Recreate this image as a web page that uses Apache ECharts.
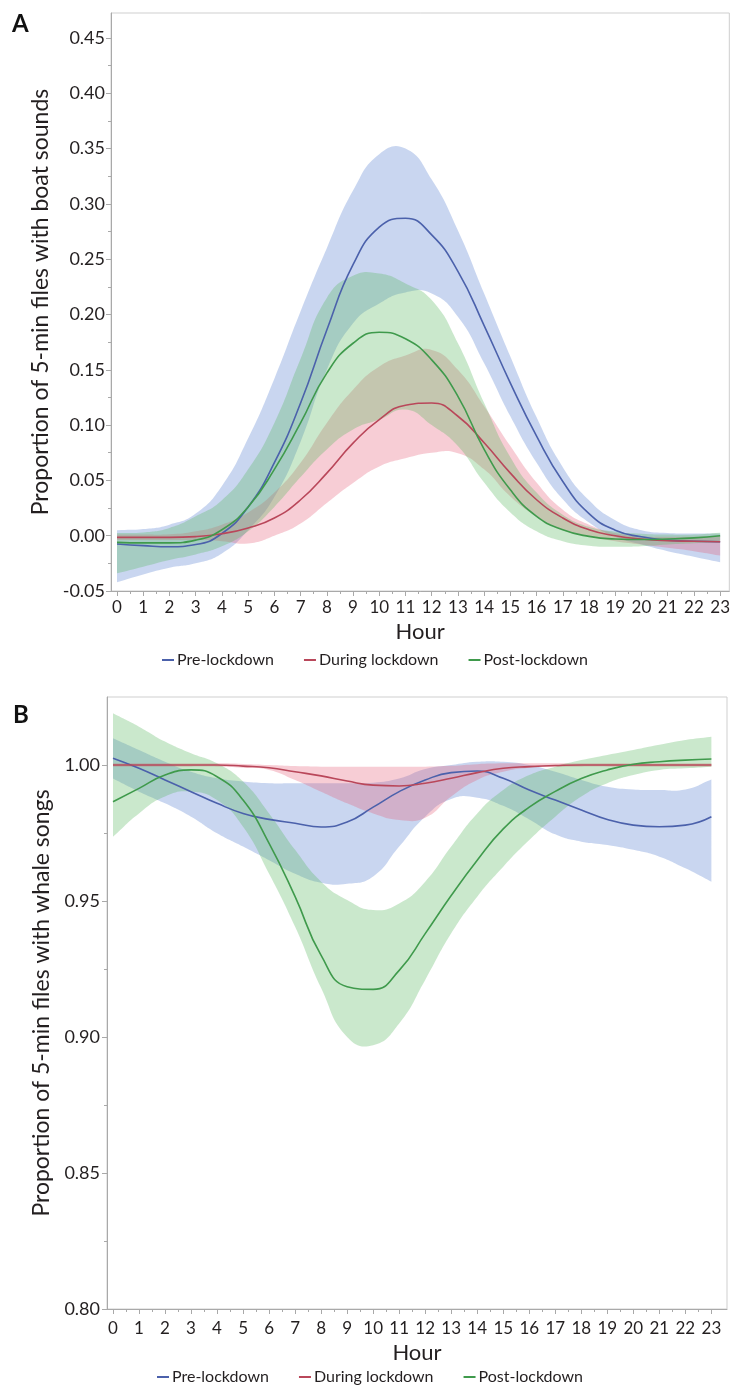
<!DOCTYPE html>
<html>
<head>
<meta charset="utf-8">
<script src="https://cdn.jsdelivr.net/npm/echarts@6/dist/echarts.min.js"></script>
<style>
html,body{margin:0;padding:0;background:#fff;}
#c{width:733px;height:1389px;}
</style>
</head>
<body>
<div id="c"></div>
<script>
// ---------- DATA ----------
const hours = [0,1,2,3,4,5,6,7,8,9,10,11,12,13,14,15,16,17,18,19,20,21,22,23];
const seriesNames = ['Pre-lockdown','During lockdown','Post-lockdown'];

// Panel A: boat sounds
const boatYTicks = [-0.05,0,0.05,0.10,0.15,0.20,0.25,0.30,0.35,0.40,0.45];
const boatPre   = [-0.0075,-0.009,-0.010,-0.008,0.002,0.026,0.066,0.120,0.186,0.245,0.279,0.287,0.272,0.239,0.190,0.138,0.090,0.049,0.020,0.005,-0.001,-0.004,-0.005,-0.0055];
const boatPreHi = [0.005,0.006,0.010,0.020,0.045,0.088,0.142,0.203,0.260,0.312,0.345,0.350,0.322,0.276,0.219,0.162,0.107,0.062,0.032,0.014,0.005,0.0025,0.002,0.002];
const boatPreLo = [-0.042,-0.035,-0.029,-0.025,-0.016,0.005,0.035,0.085,0.150,0.192,0.210,0.220,0.219,0.198,0.156,0.108,0.066,0.033,0.012,-0.001,-0.008,-0.014,-0.019,-0.024];
const boatDur   = [-0.0015,-0.0015,-0.0015,-0.0008,0.0018,0.007,0.016,0.0325,0.0566,0.0837,0.105,0.118,0.120,0.108,0.084,0.0566,0.0325,0.016,0.0054,0.0,-0.003,-0.0045,-0.005,-0.0055];
const boatDurHi = [0.001,0.001,0.0012,0.004,0.010,0.021,0.039,0.066,0.102,0.132,0.153,0.163,0.168,0.150,0.117,0.081,0.048,0.0235,0.010,0.0024,-0.0006,-0.001,-0.001,-0.0006];
const boatDurLo = [-0.004,-0.004,-0.004,-0.004,-0.005,-0.007,0.000,0.011,0.0295,0.0476,0.0626,0.070,0.075,0.0746,0.060,0.0355,0.0175,0.0054,-0.0006,-0.005,-0.008,-0.011,-0.014,-0.018];
const boatPost   = [-0.006,-0.0065,-0.0065,-0.004,0.0054,0.026,0.060,0.102,0.147,0.174,0.184,0.178,0.159,0.126,0.078,0.0415,0.0175,0.0054,-0.0006,-0.003,-0.0035,-0.003,-0.002,0.0];
const boatPostHi = [0.0025,0.003,0.007,0.0175,0.032,0.060,0.102,0.160,0.215,0.235,0.237,0.228,0.213,0.174,0.120,0.071,0.039,0.019,0.008,0.0036,0.0018,0.001,0.001,0.0027];
const boatPostLo = [-0.034,-0.028,-0.022,-0.017,-0.0096,0.004,0.026,0.053,0.078,0.096,0.105,0.114,0.100,0.081,0.048,0.021,0.004,-0.005,-0.009,-0.010,-0.0096,-0.008,-0.0068,-0.006];

// Panel B: whale songs
const whaleYTicks = [0.80,0.85,0.90,0.95,1.00];
const whalePre   = [1.0025,0.9988,0.9945,0.9902,0.9859,0.9822,0.980,0.9786,0.9772,0.9790,0.9845,0.9902,0.9945,0.9972,0.9978,0.9951,0.9908,0.9871,0.9835,0.980,0.9779,0.9773,0.9779,0.981];
const whalePreHi = [1.0098,1.0055,1.0012,0.9975,0.9951,0.9939,0.9933,0.9933,0.9933,0.9933,0.9935,0.995,0.9985,1.0,1.0012,1.0012,1.0,0.9975,0.9945,0.992,0.991,0.9908,0.991,0.9947];
const whalePreLo = [0.995,0.9902,0.9859,0.981,0.9749,0.970,0.965,0.960,0.9567,0.9563,0.959,0.970,0.981,0.9875,0.988,0.985,0.980,0.9745,0.9718,0.9706,0.9688,0.9663,0.962,0.9571];
const whaleDur   = [1.0,1.0,1.0,1.0,1.0,0.9996,0.999,0.9975,0.996,0.9941,0.9926,0.9923,0.9933,0.9951,0.9972,0.9988,0.9994,0.9998,1.0,1.0,1.0,1.0,1.0,1.0];
const whaleDurHi = [1.0006,1.0006,1.0006,1.0006,1.0006,1.0004,1.0,0.9996,0.9994,0.9994,0.9994,0.9994,0.9994,0.9997,1.0003,1.0006,1.0006,1.0006,1.0006,1.0006,1.0006,1.0006,1.0006,1.0006];
const whaleDurLo = [0.9994,0.9994,0.9994,0.9994,0.9994,0.999,0.9982,0.9945,0.9902,0.9859,0.9822,0.9798,0.9806,0.9884,0.9945,0.9975,0.999,0.9993,0.9994,0.9994,0.9994,0.9994,0.9994,0.9994];
const whalePost   = [0.9865,0.9914,0.9963,0.9982,0.9957,0.9871,0.9712,0.9516,0.930,0.9185,0.9175,0.9245,0.938,0.952,0.965,0.9765,0.9845,0.9903,0.995,0.9982,1.0003,1.0012,1.0018,1.0022];
const whalePostHi = [1.019,1.0141,1.0086,1.0043,1.0006,0.9939,0.9822,0.9688,0.9571,0.9504,0.9467,0.9491,0.9571,0.970,0.9822,0.9908,0.9963,0.9994,1.0018,1.0037,1.0055,1.0074,1.0092,1.0104];
const whalePostLo = [0.9736,0.9822,0.9884,0.9902,0.9871,0.9773,0.960,0.9405,0.918,0.900,0.897,0.905,0.921,0.9381,0.9516,0.9626,0.9724,0.981,0.9884,0.9933,0.9963,0.9982,0.9988,0.9994];

// ---------- STYLE ----------
const FONT = 'Lato, "Open Sans", sans-serif';
const TXT = '#231f20';
const AXC = '#a9a9a9';
const lineColors = ['#4b61ab', '#b9475a', '#3f9a4c'];
const bandColors = ['rgba(90,130,210,0.33)', 'rgba(230,90,115,0.30)', 'rgba(90,185,95,0.32)'];
const SMOOTH = 0.5;

const halfHours = hours.slice(0, -1).map(h => h + 0.5);
const minorOf = ticks => ticks.slice(0, -1).map(v => +(v + (ticks[1] - ticks[0]) / 2).toFixed(4));

function bandSeries(panel, k, lo, hi) {
  const ax = panel * 2;
  return {
    type: 'custom', name: seriesNames[k] + ' band', coordinateSystem: 'cartesian2d',
    xAxisIndex: ax, yAxisIndex: ax, silent: true, z: 1,
    data: hours.map((h, i) => [h, lo[i], hi[i]]),
    encode: { x: 0, y: [1, 2] },
    renderItem: function (params, api) {
      if (params.dataIndex !== 0) return null;
      const n = hours.length;
      const up = hours.map((h, i) => api.coord([h, hi[i]]));
      const dn = hours.map((h, i) => api.coord([h, lo[i]])).reverse();
      const pts = [up[0]].concat(up, [up[n - 1]], [dn[0]], dn, [dn[n - 1]]);
      return { type: 'polygon', shape: { points: pts, smooth: SMOOTH },
        style: { fill: bandColors[k] }, silent: true };
    }
  };
}
function lineSeries(panel, k, vals) {
  const ax = panel * 2;
  return { type: 'line', name: seriesNames[k], xAxisIndex: ax, yAxisIndex: ax,
    data: hours.map((h, i) => [h, vals[i]]), smooth: SMOOTH, symbol: 'none',
    color: lineColors[k], itemStyle: { color: lineColors[k] },
    lineStyle: { color: lineColors[k], width: 1.6 }, z: 3 };
}

const series = [
  bandSeries(0, 0, boatPreLo, boatPreHi),
  bandSeries(0, 1, boatDurLo, boatDurHi),
  bandSeries(0, 2, boatPostLo, boatPostHi),
  bandSeries(1, 0, whalePreLo, whalePreHi),
  bandSeries(1, 1, whaleDurLo, whaleDurHi),
  bandSeries(1, 2, whalePostLo, whalePostHi),
  lineSeries(0, 0, boatPre), lineSeries(0, 1, boatDur), lineSeries(0, 2, boatPost),
  lineSeries(1, 0, whalePre), lineSeries(1, 1, whaleDur), lineSeries(1, 2, whalePost)
];

function xAxes(gi, min, max, labelMargin, nameGap) {
  return [
    { gridIndex: gi, type: 'value', min, max, position: 'bottom',
      axisLine: { show: true, onZero: false, lineStyle: { color: AXC, width: 1 } },
      axisTick: { show: true, customValues: hours, length: 5, lineStyle: { color: AXC } },
      axisLabel: { customValues: hours, color: TXT, fontSize: 17, fontFamily: FONT, margin: labelMargin },
      splitLine: { show: false },
      name: 'Hour', nameLocation: 'middle', nameGap,
      nameTextStyle: { color: TXT, fontSize: 22, fontFamily: FONT } },
    { gridIndex: gi, type: 'value', min, max, position: 'bottom',
      axisLine: { show: false, onZero: false },
      axisTick: { show: true, customValues: halfHours, length: 3, lineStyle: { color: AXC } },
      axisLabel: { show: false }, splitLine: { show: false } }
  ];
}
function yAxes(gi, min, max, ticks, name, labelMargin, nameGap) {
  return [
    { gridIndex: gi, type: 'value', min, max, position: 'left',
      axisLine: { show: true, onZero: false, lineStyle: { color: AXC, width: 1 } },
      axisTick: { show: true, customValues: ticks, length: 5, lineStyle: { color: AXC } },
      axisLabel: { customValues: ticks, formatter: v => v.toFixed(2), color: TXT,
        fontSize: 18, fontFamily: FONT, margin: labelMargin },
      splitLine: { show: false },
      name, nameLocation: 'middle', nameGap,
      nameTextStyle: { color: TXT, fontSize: 23, fontFamily: FONT } },
    { gridIndex: gi, type: 'value', min, max, position: 'left',
      axisLine: { show: false, onZero: false },
      axisTick: { show: true, customValues: minorOf(ticks), length: 3, lineStyle: { color: AXC } },
      axisLabel: { show: false }, splitLine: { show: false } }
  ];
}

const legendBase = {
  data: seriesNames, icon: 'rect', itemWidth: 12, itemHeight: 2, itemGap: 30,
  padding: 0, selectedMode: false,
  textStyle: { color: TXT, fontSize: 16, fontFamily: FONT, padding: [0, 0, 0, -2] }
};

const option = {
  animation: false,
  backgroundColor: '#ffffff',
  title: [
    { text: 'A', left: 7, top: 7, textStyle: { fontSize: 24, fontWeight: 'bold', color: '#111', fontFamily: FONT } },
    { text: 'B', left: 8, top: 698, textStyle: { fontSize: 24, fontWeight: 'bold', color: '#111', fontFamily: FONT } }
  ],
  grid: [
    { left: 111, top: 13, width: 620, height: 578, show: true, borderColor: '#cfcfcf', borderWidth: 1, backgroundColor: 'transparent' },
    { left: 107, top: 697, width: 620, height: 612, show: true, borderColor: '#cfcfcf', borderWidth: 1, backgroundColor: 'transparent' }
  ],
  xAxis: [
    ...xAxes(0, -0.23, 23.35, 8, 30),
    ...xAxes(1, -0.23, 23.6, 11, 33)
  ],
  yAxis: [
    ...yAxes(0, -0.05, 0.4726, boatYTicks, 'Proportion of 5-min files with boat sounds', 6, 48),
    ...yAxes(1, 0.80, 1.025, whaleYTicks, 'Proportion of 5-min files with whale songs', 7, 54)
  ],
  legend: [
    Object.assign({}, legendBase, { left: 162, top: 652 }),
    Object.assign({}, legendBase, { left: 157, top: 1369 })
  ],
  series
};

const chart = echarts.init(document.getElementById('c'), null, { renderer: 'canvas' });
chart.setOption(option);
</script>
</body>
</html>
